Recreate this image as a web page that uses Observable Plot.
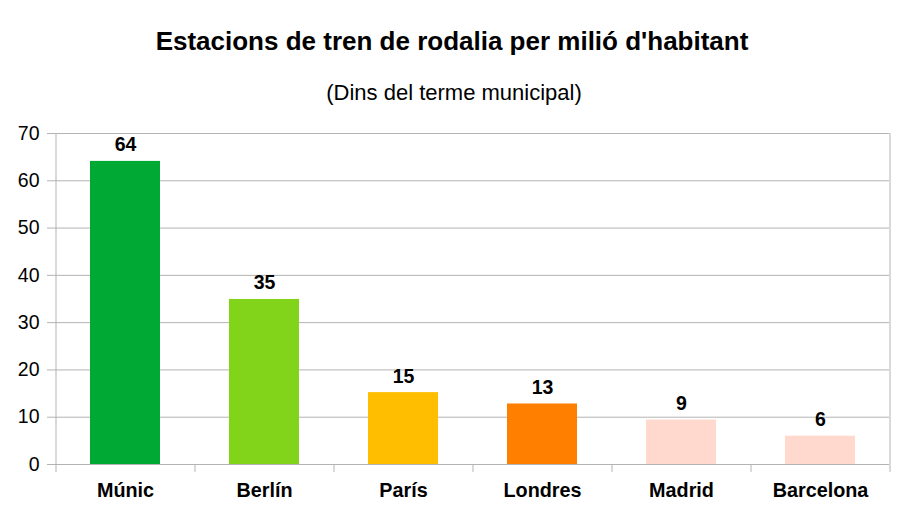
<!DOCTYPE html>
<html>
<head>
<meta charset="utf-8">
<script src="https://cdn.jsdelivr.net/npm/d3@7"></script>
<script src="https://cdn.jsdelivr.net/npm/@observablehq/plot@0.6"></script>
<style>
  html, body { margin: 0; padding: 0; background: #fff; }
  #wrap { position: relative; width: 908px; height: 511px; font-family: "Liberation Sans", Arial, sans-serif; }
  #title { position: absolute; left: 0; width: 904px; top: 28px; text-align: center; font-size: 26px; line-height: 1; font-weight: bold; color: #000; }
  #subtitle { position: absolute; left: 0; width: 908px; top: 82px; text-align: center; font-size: 22px; line-height: 1; color: #000; }
  #chart { position: absolute; left: 0; top: 115px; }
</style>
</head>
<body>
<div id="wrap">
  <div id="title">Estacions de tren de rodalia per milió d'habitant</div>
  <div id="subtitle">(Dins del terme municipal)</div>
  <div id="chart"></div>
</div>
<script>
const cities = ["Múnic", "Berlín", "París", "Londres", "Madrid", "Barcelona"];
const stations = [64.1, 34.9, 15.2, 12.8, 9.4, 6.0];
const colors = ["#00a933", "#81d41a", "#ffbf00", "#ff8000", "#ffd8ce", "#ffd8ce"];
const yTicks = [0, 10, 20, 30, 40, 50, 60, 70];

const data = cities.map((c, i) => ({city: c, value: stations[i], color: colors[i]}));

const W = 908, H = 396;
const mL = 55, mR = 19, mT = 18, mB = 47;
const step = (W - mL - mR) / cities.length;
const plotH = H - mT - mB;
const grid = "#b3b3b3";

const chart = Plot.plot({
  width: W,
  height: H,
  marginLeft: mL,
  marginRight: mR,
  marginTop: mT,
  marginBottom: mB,
  style: {fontFamily: "Liberation Sans, Arial, sans-serif", background: "#fff", color: "#000"},
  x: {domain: cities, paddingInner: 0.5, paddingOuter: 0.25, label: null},
  y: {domain: [0, 70], label: null},
  marks: [
    Plot.ruleY(yTicks, {y: d => d, stroke: grid, strokeWidth: 1, insetLeft: -8}),
    Plot.barY(data, {x: "city", y: "value", fill: "color"}),
    Plot.ruleX([cities[0]], {x: d => d, dx: -step / 2, stroke: grid, insetBottom: -8}),
    Plot.ruleX([cities[cities.length - 1]], {x: d => d, dx: step / 2, stroke: grid, insetBottom: -8}),
    Plot.ruleX(cities.slice(1), {x: d => d, dx: -step / 2, stroke: grid, insetTop: plotH, insetBottom: -8}),
    Plot.text(data, {x: "city", y: "value", text: d => d3.format(".0f")(d.value), lineAnchor: "bottom", dy: -10, fontSize: 19.5, fontWeight: "bold", fill: "#000"}),
    Plot.axisY({ticks: yTicks, tickSize: 0, tickPadding: 16, fontSize: 19.5, label: null, tickFormat: d3.format("d")}),
    Plot.axisX({tickSize: 0, tickPadding: 18, fontSize: 19.8, fontWeight: "bold", label: null})
  ]
});
document.getElementById("chart").appendChild(chart);
</script>
</body>
</html>
